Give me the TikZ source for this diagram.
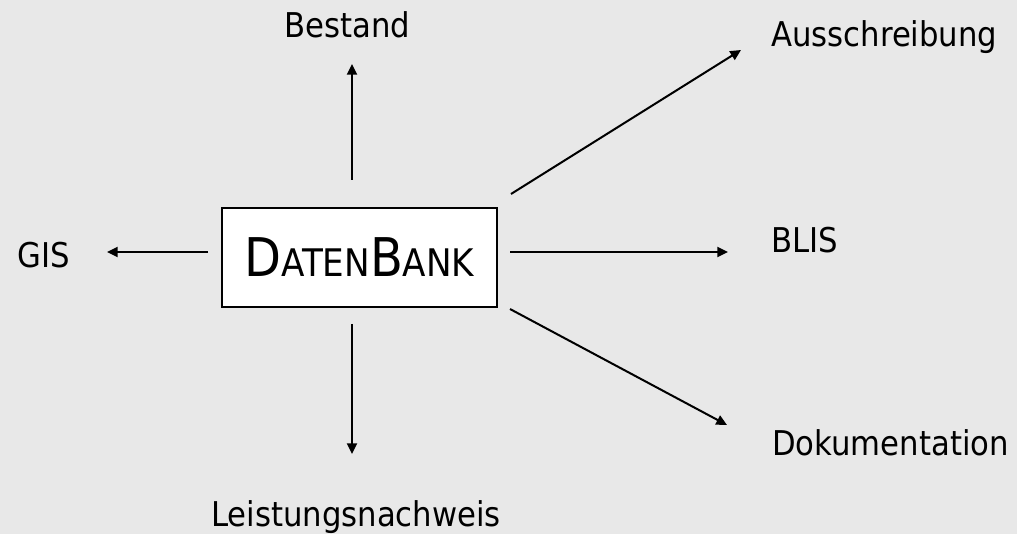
\documentclass[tikz,border=0pt]{standalone}
\usepackage{fontspec}
\setmainfont{DejaVu Sans Condensed}
\usetikzlibrary{arrows.meta}
\definecolor{bg}{HTML}{E8E8E8}
\tikzset{
  lbl/.style={anchor=base west, inner sep=0pt, font=\fontsize{25.6pt}{28pt}\selectfont},
  arr/.style={line width=1.5pt, -{Triangle[length=8pt,width=7.5pt]}},
  dbbox/.style={draw, line width=1.5pt, fill=white, minimum width=206pt, minimum height=74pt, inner sep=0pt}
}
\begin{document}
\begin{tikzpicture}[x=0.75pt,y=-0.75pt]
\fill[bg] (0,0) rectangle (1017,534);
\useasboundingbox (0,0) rectangle (1017,534);
\node[dbbox] (db) at (359.5,257.5) {\fontsize{40pt}{44pt}\selectfont D\fontsize{28.5pt}{32pt}\selectfont ATEN\fontsize{40pt}{44pt}\selectfont B\fontsize{28.5pt}{32pt}\selectfont ANK};
\node[lbl] (bestand) at (284,38) {Bestand};
\node[lbl] (gis) at (17,268) {GIS};
\node[lbl] (aus) at (771,46.7) {Ausschreibung};
\node[lbl] (blis) at (771,253) {BLIS};
\node[lbl] (dok) at (772,455) {Dokumentation};
\node[lbl] (leist) at (211,526.7) {Leistungsnachweis};
\coordinate (s1) at (352,180); \coordinate (e1) at (352,64);
\coordinate (s2) at (208,252); \coordinate (e2) at (107,252);
\coordinate (s3) at (511,194); \coordinate (e3) at (741,50);
\coordinate (s4) at (510,252); \coordinate (e4) at (728,252);
\coordinate (s5) at (510,309); \coordinate (e5) at (727,425);
\coordinate (s6) at (352,324); \coordinate (e6) at (352,454);
\draw[arr] (s1) -- (e1);
\draw[arr] (s2) -- (e2);
\draw[arr] (s3) -- (e3);
\draw[arr] (s4) -- (e4);
\draw[arr] (s5) -- (e5);
\draw[arr] (s6) -- (e6);
\end{tikzpicture}
\end{document}
